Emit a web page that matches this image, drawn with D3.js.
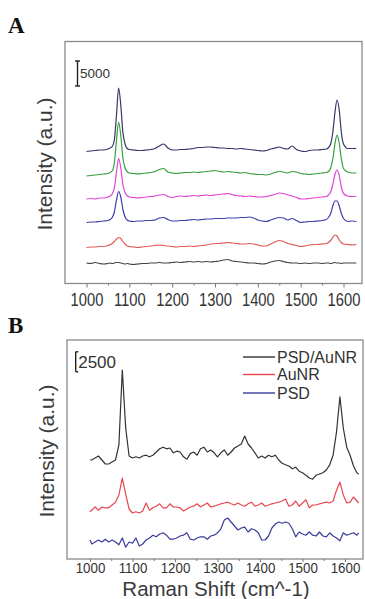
<!DOCTYPE html>
<html>
<head>
<meta charset="utf-8">
<script src="https://cdn.jsdelivr.net/npm/d3@7"></script>
<style>
  body { margin: 0; background: #fff; }
  svg { display: block; font-family: "Liberation Sans", Arial, sans-serif; }
</style>
</head>
<body>
<svg id="chart" width="365" height="599"></svg>
<script>
// ---- data ----
const xTicks = [1000, 1100, 1200, 1300, 1400, 1500, 1600];
const xMinor = [1050, 1150, 1250, 1350, 1450, 1550];

// panel A: wavenumbers (cm^-1), finer near the two peaks
const wnA = [
  1000, 1010, 1020, 1030, 1040, 1050,
  1055, 1060, 1065, 1070, 1075, 1080, 1085, 1090, 1095,
  1100, 1110, 1120, 1130, 1140, 1150, 1160, 1170, 1180, 1190,
  1200, 1210, 1220, 1230, 1240, 1250, 1260, 1270, 1280, 1290,
  1300, 1310, 1320, 1330, 1340, 1350, 1360, 1370, 1380, 1390,
  1400, 1410, 1420, 1430, 1440, 1450, 1460, 1470, 1480, 1490,
  1500, 1510, 1520, 1530, 1540, 1550, 1560,
  1565, 1570, 1575, 1580, 1585, 1590, 1595, 1600,
  1610, 1620, 1630
];
// stacked offsets (top trace first)
const offsetsA = [26700, 22100, 17300, 12500, 7700, 4100];
const colorsA = ['#36366a', '#35a03c', '#e044d4', '#3e3eac', '#e05a5a', '#444444'];
const spectraA = [
  [-300, -200, -100, 0, 0, 200,
   400, 700, 2000, 7000, 12400, 9000, 3500, 1200, 300,
   100, 0, -100, -100, 0, 100, 300, 800, 1200, 400,
   0, 0, 100, 100, 200, 300, 500, 500, 600, 600,
   500, 400, 400, 300, 300, 200, 300, 200, 100, 0,
   -100, -200, -100, 200, 400, 600, 300, 200, 800, 100,
   -200, -300, -100, 0, 0, 100, 200,
   500, 1200, 3500, 7500, 10000, 8000, 3500, 1200,
   300, 300, 300],
  [-600, -500, -400, -300, -200, -100,
   100, 400, 2000, 6500, 10200, 7500, 3000, 1000, 300,
   0, -100, -200, -100, 0, 100, 300, 700, 900, 200,
   0, -100, 0, 100, 100, 200, 100, 200, 300, 400,
   500, 300, 200, 300, 200, 100, 0, 100, -100, -200,
   -300, -300, -400, -200, 100, 300, 200, 0, 300, 200,
   -100, -200, -300, -200, -100, 0, 100,
   300, 1000, 2800, 5800, 7600, 6000, 2800, 900,
   200, 0, 0],
  [-400, -300, -400, -200, -200, 0,
   200, 600, 1800, 5000, 7700, 5800, 2500, 900, 300,
   0, -100, -200, -100, 0, 100, 200, 400, 500, 100,
   -100, 100, 200, 100, 200, 300, 200, 300, 400, 300,
   400, 500, 600, 700, 500, 300, 200, 100, 200, 100,
   0, 0, 100, 300, 500, 800, 700, 400, 200, -100,
   -400, -400, -300, -200, -100, 0, 100,
   400, 1000, 2500, 4500, 5400, 4300, 2000, 700,
   200, 100, 100],
  [-300, -200, -200, -100, 0, 100,
   300, 700, 1800, 4200, 5900, 4800, 2300, 800, 200,
   0, -100, 0, 0, 100, 100, 200, 600, 700, 300,
   0, 0, 100, 100, 200, 300, 200, 300, 400, 400,
   500, 500, 500, 600, 600, 600, 700, 700, 800, 600,
   200, 0, -100, 200, 500, 700, 600, 200, 500, 100,
   -300, -200, -100, -100, 0, 100, 300,
   700, 1500, 3000, 4000, 4000, 3000, 1500, 500,
   -100, 0, -100],
  [-500, -400, -400, -300, -300, -100,
   100, 300, 700, 1200, 1500, 1300, 700, 200, -200,
   -300, -400, -500, -400, -300, -200, -100, 0, -100, -200,
   -300, -400, -300, -300, -200, -300, -200, -100, 0, 200,
   300, 300, 400, 500, 400, 300, 200, 200, 300, 200,
   0, -200, -200, 200, 600, 900, 700, 300, 100, -100,
   -300, -200, 0, 100, 100, 200, 300,
   500, 900, 1500, 2000, 1800, 1000, 500, 200,
   100, 0, 100],
  [0, -100, 100, -100, -200, -100,
   0, -100, 0, 100, 100, 0, -100, -200, -100,
   -200, -300, -200, -100, -100, 0, 0, 100, 0, 0,
   100, 200, 100, 200, 300, 200, 300, 200, 300, 200,
   300, 400, 600, 700, 400, 300, 200, 100, 0, 0,
   -100, -200, -100, 200, 400, 500, 300, 100, 0, 0,
   -100, 0, -100, 0, 0, -100, 0,
   0, -100, 0, 100, 0, 0, -100, 0,
   0, 0, 0]
];

// panel B
const wnB = [
  1000, 1004, 1012, 1020, 1028, 1036, 1044, 1052, 1060,
  1068, 1076, 1084, 1092, 1100, 1108, 1116, 1124, 1132, 1140,
  1148, 1156, 1164, 1172, 1180, 1188, 1196, 1204, 1212, 1220,
  1228, 1236, 1244, 1252, 1260, 1268, 1276, 1284, 1292, 1300,
  1308, 1316, 1324, 1332, 1340, 1348, 1356, 1364, 1372, 1380,
  1388, 1396, 1404, 1412, 1420, 1428, 1436, 1444, 1452, 1460,
  1468, 1476, 1484, 1492, 1500, 1508, 1516, 1524, 1532, 1540,
  1548, 1556, 1564, 1572, 1580, 1588, 1596, 1604, 1612, 1620,
  1628, 1632
];
const namesB = ['PSD/AuNR', 'AuNR', 'PSD'];
const colorsB = ['#333333', '#e8474f', '#3c3c9c'];
const offsetsB = [12375, 6500, 2375];
const spectraB = [
  [0, 0, 250, 500, 0, -500, -500, -250, 0,
   1900, 11250, 4000, 500, 250, 400, 250, 500, 600, 400,
   600, 1000, 1400, 1600, 1400, 1500, 900, 1100, 1000, 400,
   100, 800, 1000, 600, 1400, 1600, 1000, 1250, 900, 400,
   900, 1250, 600, 1000, 1500, 1750, 2000, 3000, 2000, 1500,
   900, 250, 500, 250, 600, 400, 600, 0, -400, -600,
   -750, -1100, -900, -1400, -1600, -1900, -2250, -2400, -1900, -1750,
   -1600, -1250, -600, 600, 3500, 7900, 4000, 1600, 600, -750,
   -1600, -1750],
  [-600, -400, 0, -400, 0, -100, -100, 250, 600,
   1500, 3600, 1600, -250, -750, -600, -750, -500, 500, -400,
   -100, 100, 400, -100, -100, 400, 0, 0, -100, -500,
   -250, 0, 100, 400, 0, 250, 500, 0, 100, 250,
   400, 500, 600, 400, 250, 500, 250, 100, 400, 600,
   100, 250, 500, 100, 250, 400, 500, 600, 750, 1000,
   100, 250, 750, 100, 500, 900, -100, 250, 250, 400,
   500, 600, 500, 750, 2100, 3100, 1500, 500, 600, 1250,
   750, 500],
  [0, -500, -250, 0, -250, 100, -250, 0, -250,
   -600, 250, -900, -250, -400, 250, -750, -500, 0, 250,
   600, 400, 750, 900, 600, 100, 100, 250, 500, 600,
   900, 100, 0, 250, 400, 400, 100, 500, 600, 900,
   1400, 2500, 2750, 2250, 1750, 1250, 1500, 1600, 1000, 1400,
   1250, 900, 0, 0, 500, 1500, 2000, 2250, 2100, 2250,
   2100, 1400, 400, 1000, 750, 600, 1000, 600, 500, 1000,
   500, 400, 900, 500, 250, -100, 900, 600, 750, 900,
   600, 900]
];

// ---- drawing ----
const svg = d3.select('#chart');

function drawPanel(p) {
  const g = svg.append('g');
  const x = d3.scaleLinear().domain([1000, 1600]).range(p.xRange);
  const y = d3.scaleLinear().domain([0, p.yMax]).range([p.bottom, p.top]);

  // frame
  g.append('rect')
    .attr('x', p.left).attr('y', p.top)
    .attr('width', p.right - p.left).attr('height', p.bottom - p.top)
    .attr('fill', 'none').attr('stroke', '#8a8a8a').attr('stroke-width', 1.3);

  // bottom axis: major + minor ticks
  const ax = g.append('g')
    .attr('transform', `translate(0,${p.bottom})`)
    .call(d3.axisBottom(x).tickValues(xTicks).tickSize(p.tickLen).tickPadding(p.tickPad)
      .tickFormat(d3.format('d')));
  ax.attr('font-family', null).attr('font-size', null);
  ax.select('.domain').remove();
  ax.selectAll('line').attr('stroke', '#777');
  ax.selectAll('text')
    .attr('fill', '#333')
    .style('font-size', p.tickFont + 'px')
    .attr('transform', `scale(${p.squeeze},1)`);

  const minor = g.append('g')
    .attr('transform', `translate(0,${p.bottom})`)
    .call(d3.axisBottom(x).tickValues(xMinor).tickSize(2).tickFormat(''));
  minor.select('.domain').remove();
  minor.selectAll('line').attr('stroke', '#777');

  // spectra
  p.spectra.forEach((vals, i) => {
    const line = d3.line()
      .x((d, j) => x(p.wn[j]))
      .y(d => y(d + p.offsets[i]))
      .curve(p.curve);
    g.append('path')
      .datum(vals)
      .attr('d', line)
      .attr('fill', 'none')
      .attr('stroke', p.colors[i])
      .attr('stroke-width', 1.2)
      .attr('stroke-linejoin', 'round');
  });

  // intensity scale bar
  const y0 = y(p.barBase), y1 = y(p.barBase + p.barSize);
  const bar = g.append('g').attr('stroke', '#222').attr('stroke-width', 1.4);
  bar.append('line').attr('x1', p.barX).attr('x2', p.barX).attr('y1', y0).attr('y2', y1);
  bar.append('line').attr('x1', p.barX - p.serifL).attr('x2', p.barX + p.serifR).attr('y1', y0).attr('y2', y0);
  bar.append('line').attr('x1', p.barX - p.serifL).attr('x2', p.barX + p.serifR).attr('y1', y1).attr('y2', y1);
  g.append('text')
    .attr('x', p.barX + 2.5).attr('y', p.barTextY)
    .attr('font-size', p.barFont).attr('fill', '#333')
    .text(p.barSize);

  // y title
  g.append('text')
    .attr('transform', `translate(${p.yTitleX},${(p.top + p.bottom) / 2 + 1.5}) rotate(-90)`)
    .attr('text-anchor', 'middle')
    .attr('font-size', 21).attr('fill', '#3a3a3a')
    .text('Intensity (a.u.)');

  // panel letter
  svg.append('text')
    .attr('x', 8).attr('y', p.letterY)
    .attr('font-family', '"Liberation Serif", "Times New Roman", serif')
    .attr('font-weight', 'bold').attr('font-size', 23).attr('fill', '#111')
    .text(p.letter);

  return { g, x, y };
}

drawPanel({
  letter: 'A', letterY: 33,
  left: 65, right: 362, top: 41.5, bottom: 283.5,
  xRange: [86.5, 343.5], yMax: 48400,
  wn: wnA, spectra: spectraA, offsets: offsetsA, colors: colorsA,
  curve: d3.curveMonotoneX,
  tickLen: 4, tickPad: 6, tickFont: 18, squeeze: 0.82,
  barX: 77.5, barBase: 39500, barSize: 5000, serifL: 2.5, serifR: 2.5,
  barTextY: 78, barFont: 13.5,
  yTitleX: 52
});

const pB = drawPanel({
  letter: 'B', letterY: 333,
  left: 67, right: 363, top: 340, bottom: 559,
  xRange: [90, 345], yMax: 27375,
  wn: wnB, spectra: spectraB, offsets: offsetsB, colors: colorsB,
  curve: d3.curveLinear,
  tickLen: 3, tickPad: 0, tickFont: 15.5, squeeze: 0.86,
  barX: 75.7, barBase: 23400, barSize: 2500, serifL: 0, serifR: 2.5,
  barTextY: 368, barFont: 17,
  yTitleX: 54
});

// x title (panel B only)
svg.append('text')
  .attr('x', 216).attr('y', 595.5)
  .attr('text-anchor', 'middle')
  .attr('font-size', 20.5).attr('fill', '#3a3a3a')
  .text('Raman Shift (cm^-1)');

// legend B
const legendY = [357, 374.5, 393];
const legend = pB.g.append('g');
namesB.forEach((name, i) => {
  legend.append('line')
    .attr('x1', 243).attr('x2', 275)
    .attr('y1', legendY[i]).attr('y2', legendY[i])
    .attr('stroke', colorsB[i]).attr('stroke-width', 1.4);
  legend.append('text')
    .attr('x', 277).attr('y', legendY[i] + 5.5)
    .attr('font-size', 16).attr('fill', '#333')
    .text(name);
});
</script>
</body>
</html>
